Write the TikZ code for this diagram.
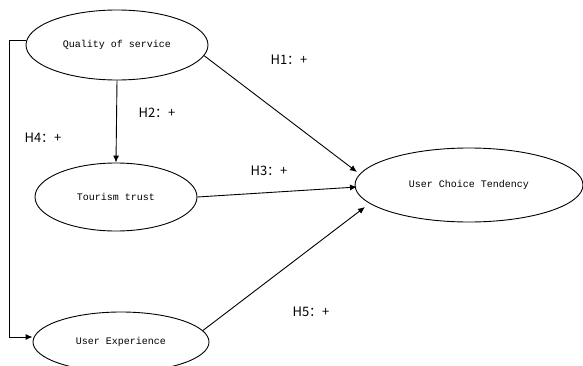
\documentclass[tikz,border=0pt]{standalone}
\usepackage{fontspec}
\setmonofont{Liberation Mono}
\newfontfamily\cjk{Noto Sans CJK SC}
\usetikzlibrary{shapes.geometric,arrows.meta}
\begin{document}
\begin{tikzpicture}[x=1pt,y=1pt,
  var/.style={draw,ellipse,line width=0.9pt,inner sep=0pt,font=\ttfamily\fontsize{10}{12}\selectfont},
  link/.style={line width=0.9pt,-{Latex[length=7pt,width=6pt]}},
  lab/.style={font=\cjk\fontsize{13}{15}\selectfont,inner sep=0pt}]
\useasboundingbox (0,0) rectangle (583,365);
\node[var,minimum width=182pt,minimum height=70pt] (q) at (117,320) {Quality of service};
\node[var,minimum width=162pt,minimum height=68pt] (t) at (116,168) {Tourism trust};
\node[var,minimum width=176pt,minimum height=60pt] (u) at (121,23) {User Experience};
\node[var,minimum width=228pt,minimum height=74pt] (c) at (469,180) {User Choice Tendency};
\coordinate (l1) at (9,325);
\coordinate (l2) at (9,28);
\draw[line width=0.9pt] (q.west |- l1) -- (l1) -- (l2);
\draw[link] (l2) -- (l2 -| u.west);
\draw[link] (q.south) -- (t.north);
\draw[link] (q.-7) -- (357,193);
\draw[link] (t.east) -- (357,178);
\draw[link] (u.8) -- (365,158);
\node[lab] (h1) at (289,305) {H1：+};
\node[lab] (h2) at (157,252) {H2：+};
\node[lab] (h4) at (43,227) {H4：+};
\node[lab] (h3) at (269,194) {H3：+};
\node[lab] (h5) at (311,53) {H5：+};
\end{tikzpicture}
\end{document}
